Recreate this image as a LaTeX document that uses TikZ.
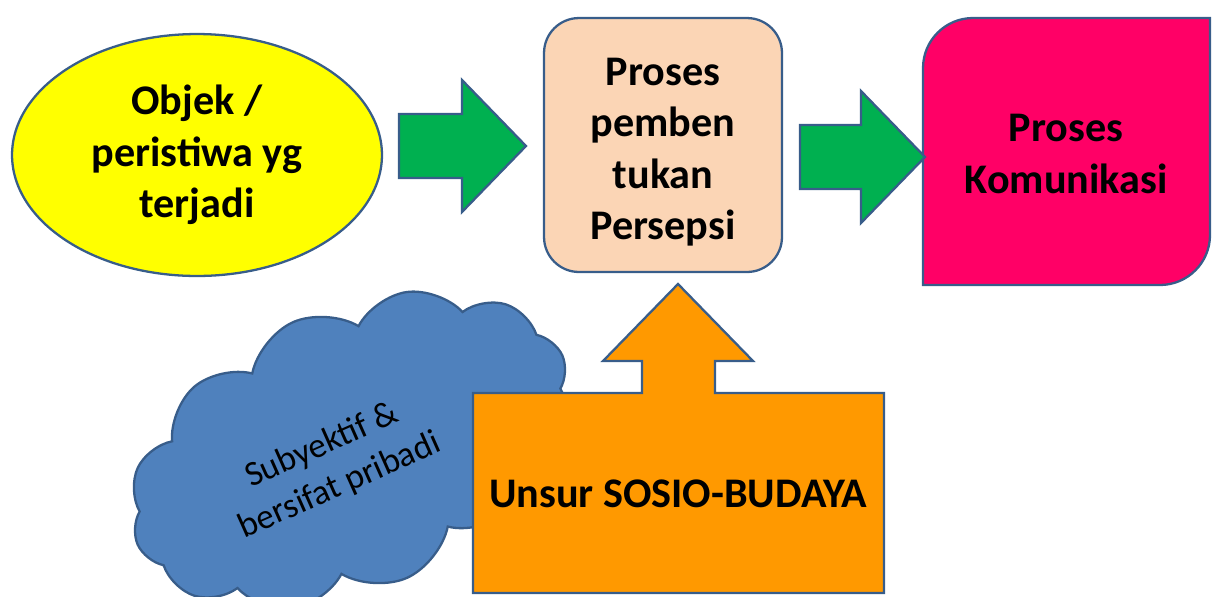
\documentclass[tikz,border=0pt]{standalone}
\usepackage{fontspec}
\setmainfont{Carlito}
\usepackage{tikz}
\usetikzlibrary{shapes.geometric,shapes.symbols}
\definecolor{garisbiru}{HTML}{385D8A}
\definecolor{kuning}{HTML}{FFFF00}
\definecolor{hijau}{HTML}{00B050}
\definecolor{krem}{HTML}{FBD5B5}
\definecolor{merah}{HTML}{FF0066}
\definecolor{oranye}{HTML}{FF9900}
\definecolor{awanbiru}{HTML}{4F81BD}
\begin{document}
\begin{tikzpicture}[x=0.02cm,y=-0.02cm,
    garis/.style={draw=garisbiru,line width=1.3pt,line join=miter},
    teks/.style={align=center,inner sep=0pt,font=\fontsize{24}{29.3}\selectfont\bfseries},
    panah/.style={garis,fill=hijau}]
  \useasboundingbox (0,0) rectangle (1212,596);
  \node[garis,teks,ellipse,fill=kuning,minimum width=7.4cm,minimum height=4.84cm]
    (objek) at (197,155) {Objek /\\peristiwa yg\\terjadi};
  \node[garis,teks,fill=krem,rounded corners=0.7cm,minimum width=4.76cm,minimum height=5.08cm]
    (persepsi) at (663,145) {};
  \node[teks] (persepsi teks) at (663,152) {Proses\\pemben\\tukan\\Persepsi};
  \draw[garis,fill=merah] (923,285) -- (923,68) arc[start angle=180,end angle=90,radius=1cm]
    -- (1210,18) -- (1210,235) arc[start angle=0,end angle=-90,radius=1cm] -- cycle;
  \node[teks] (komunikasi) at (1066,154) {Proses\\Komunikasi};
  % panah hijau
  \draw[panah] (399,114) -- (462,114) -- (462,80) -- (526,146) -- (462,212) -- (462,178) -- (399,178) -- cycle;
  \draw[panah] (800,125) -- (861,125) -- (861,91) -- (925,157) -- (861,223) -- (861,189) -- (800,189) -- cycle;
  % awan dan unsur sosio-budaya
  \node[garis,cloud,cloud puffs=12,cloud puff arc=110,cloud ignores aspect,fill=awanbiru,rotate=24,
    minimum width=9.3cm,minimum height=5.6cm] (awan) at (350,450) {};
  \node[rotate=24,align=center,inner sep=0pt,font=\fontsize{20}{25}\selectfont]
    (subyektif) at (331,466) {Subyektif \&\\bersifat pribadi};
  \draw[garis,fill=oranye] (473,593) -- (473,393) -- (642,393) -- (642,361) -- (603,361) -- (678,284)
    -- (753,361) -- (715,361) -- (715,393) -- (884,393) -- (884,593) -- cycle;
  \node[teks] (sosbud) at (678,494) {Unsur SOSIO-BUDAYA};
\end{tikzpicture}
\end{document}
